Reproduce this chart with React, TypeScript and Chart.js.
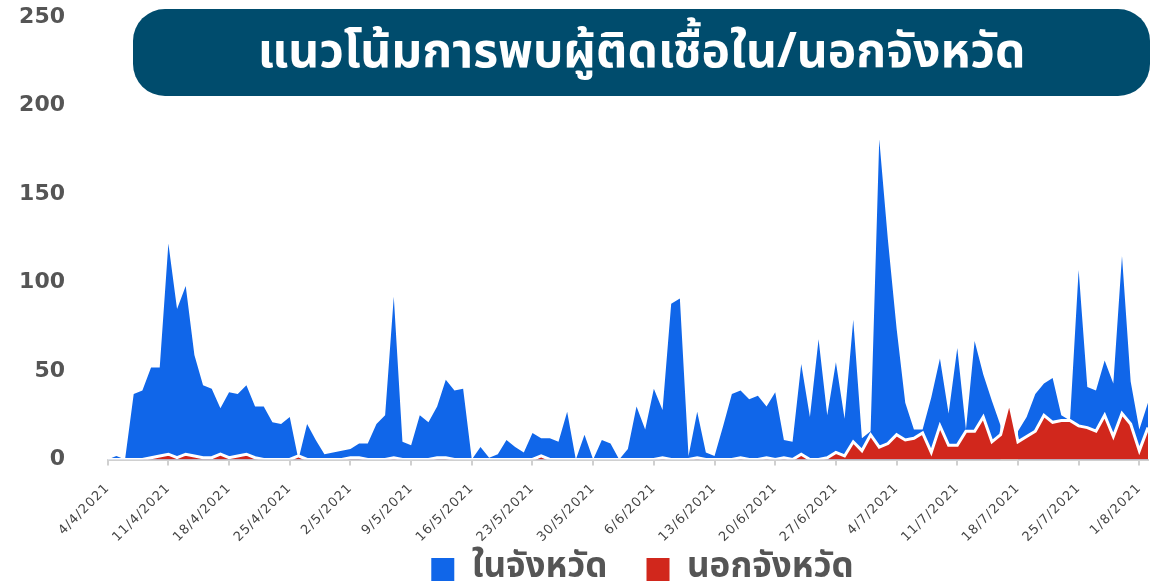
import React, { useEffect, useRef } from "react";
import { Chart, registerables } from "chart.js";

Chart.register(...registerables);

// ---------- data ----------
const START_YEAR = 2021;
const START_MONTH = 4; // April
const START_DAY = 4;
const DAY_COUNT = 121; // 4/4/2021 .. 2/8/2021
const TICK_EVERY = 7;
const Y_TICKS = [0, 50, 100, 150, 200, 250];

const TITLE = "แนวโน้มการพบผู้ติดเชื้อใน/นอกจังหวัด";
const SERIES_NAMES = ["ในจังหวัด", "นอกจังหวัด"];

// in-province cases per day
const inProvince: (number | null)[] = [
  0, 2, 0, 37, 39, 52, 52, 122, 85, 98,
  59, 42, 40, 29, 38, 37, 42, 30, 30, 21,
  20, 24, 0, 20, 11, 3, 4, 5, 6, 9,
  9, 20, 25, 92, 10, 8, 25, 21, 30, 45,
  39, 40, 0, 7, 1, 3, 11, 7, 4, 15,
  12, 12, 10, 27, 0, 14, 0, 11, 9, 0,
  6, 30, 17, 40, 28, 88, 91, 2, 27, 4,
  2, 19, 37, 39, 34, 36, 30, 38, 11, 10,
  54, 24, 68, 25, 55, 23, 79, 12, 16, 181,
  124, 74, 32, 17, 17, 35, 57, 26, 63, 17,
  67, 48, 33, 19, null, 16, 24, 37, 43, 46,
  25, 22, 107, 41, 39, 56, 43, 115, 44, 17,
  32,
];

// out-of-province cases per day
const outProvince: number[] = [
  0, 0, 0, 0, 0, 1, 2, 3, 1, 3,
  2, 1, 1, 3, 1, 2, 3, 1, 0, 0,
  0, 0, 2, 0, 0, 0, 0, 0, 1, 1,
  0, 0, 0, 1, 0, 0, 0, 0, 1, 1,
  0, 0, 0, 0, 0, 0, 0, 0, 0, 0,
  2, 0, 0, 0, 0, 0, 0, 0, 0, 0,
  0, 0, 0, 0, 1, 0, 0, 0, 1, 0,
  0, 0, 0, 1, 0, 0, 1, 0, 1, 0,
  3, 0, 0, 1, 4, 2, 10, 5, 14, 7,
  9, 14, 11, 12, 15, 4, 19, 8, 8, 16,
  16, 24, 10, 14, 33, 10, 13, 16, 25, 21,
  22, 22, 19, 18, 16, 25, 13, 26, 20, 5,
  18,
];

const BLUE = "#1066E9";
const RED = "#D1271C";
const TITLE_BG = "#004C6D";

const THAI_FONT = '"Noto Sans Thai", "Noto Sans Thai UI", "Noto Looped Thai", "Noto Sans", "DejaVu Sans", sans-serif';

function buildDates(): string[] {
  const out: string[] = [];
  for (let i = 0; i < DAY_COUNT; i++) {
    const d = new Date(Date.UTC(START_YEAR, START_MONTH - 1, START_DAY + i));
    out.push(`${d.getUTCDate()}/${d.getUTCMonth() + 1}/${d.getUTCFullYear()}`);
  }
  return out;
}

const dates = buildDates();

// ---------- layout constants ----------
const CANVAS_W = 1168;
const CANVAS_H = 629;
const VIEW_H = 586;
const Y_AXIS_W = 107.7;
const X_AXIS_H = 85.5;
const LEGEND_CENTER_X = 642.5;
const LEGEND_ITEM_TOP = 552;

// position the legend row where the reference has it
const legendPlace = {
  id: "legendPlace",
  afterLayout(chart: any) {
    const lg = chart.legend;
    if (!lg) return;
    const dx = LEGEND_CENTER_X - (lg.left + lg.right) / 2;
    lg.left += dx;
    lg.right += dx;
    const pad = lg.options.labels.padding || 0;
    const dy = LEGEND_ITEM_TOP - (lg.top + pad);
    lg.top += dy;
    lg.bottom += dy;
  },
};

// x tick labels in the reference are slightly letter-spaced
const xLabelSpacing = {
  id: "xLabelSpacing",
  beforeDraw(chart: any) {
    const xs = chart.scales.x;
    if (!xs || xs._spacingWrapped) return;
    const orig = xs.drawLabels.bind(xs);
    xs.drawLabels = (area: any) => {
      const ctx = xs.ctx;
      const prev = ctx.letterSpacing;
      ctx.letterSpacing = "1px";
      orig(area);
      ctx.letterSpacing = prev || "0px";
    };
    xs._spacingWrapped = true;
  },
};

export default function App() {
  const canvasRef = useRef<HTMLCanvasElement | null>(null);

  useEffect(() => {
    const canvas = canvasRef.current;
    if (!canvas) return;
    const chart = new Chart(canvas, {
      type: "line",
      data: {
        labels: dates,
        datasets: [
          {
            label: SERIES_NAMES[0],
            data: inProvince,
            backgroundColor: BLUE,
            borderColor: BLUE,
            borderWidth: 0,
            fill: "origin",
            pointRadius: 0,
            tension: 0,
            spanGaps: false,
            order: 1,
          },
          {
            label: SERIES_NAMES[1],
            data: outProvince,
            backgroundColor: RED,
            borderColor: "#ffffff",
            borderWidth: 3,
            borderJoinStyle: "miter",
            fill: "origin",
            pointRadius: 0,
            tension: 0,
            order: 0,
          },
        ],
      },
      options: {
        animation: false,
        responsive: false,
        maintainAspectRatio: false,
        events: [],
        layout: { padding: { top: 17, right: 20, left: 0, bottom: 0 } },
        plugins: {
          tooltip: { enabled: false },
          title: { display: false },
          legend: {
            position: "bottom",
            labels: {
              boxWidth: 23,
              boxHeight: 23,
              padding: 39,
              color: "#555555",
              font: { family: THAI_FONT, size: 35, weight: "bold" },
              sort: (a: any, b: any) => a.datasetIndex - b.datasetIndex,
              generateLabels: (ch: any) =>
                (Chart.defaults.plugins.legend.labels.generateLabels as any)(ch).map((it: any) => ({
                  ...it,
                  strokeStyle: it.fillStyle,
                  lineWidth: 0,
                })),
            },
          },
        },
        scales: {
          x: {
            type: "category",
            offset: false,
            ticks: {
              autoSkip: false,
              minRotation: 45,
              maxRotation: 45,
              padding: 15,
              color: "#444444",
              font: { family: '"DejaVu Sans", sans-serif', size: 13 },
              callback: (_v: any, i: number) => (i % TICK_EVERY === 0 ? dates[i] : ""),
            },
            grid: {
              display: true,
              drawOnChartArea: false,
              drawTicks: true,
              tickLength: 6,
              lineWidth: 2,
              color: (ctx: any) => (ctx.index % TICK_EVERY === 0 ? "#d0d0d0" : "rgba(0,0,0,0)"),
            },
            border: { display: true, color: "#d0d0d0", width: 2 },
            afterFit: (s: any) => {
              s.height = X_AXIS_H;
              s.paddingLeft = 0;
              s.paddingRight = 0;
            },
          },
          y: {
            min: Y_TICKS[0],
            max: Y_TICKS[Y_TICKS.length - 1],
            afterBuildTicks: (s: any) => {
              s.ticks = Y_TICKS.map((v) => ({ value: v }));
            },
            ticks: {
              color: "#555555",
              padding: 3.8,
              font: { family: '"DejaVu Sans", sans-serif', size: 22, weight: "bold" },
            },
            grid: { display: false, drawTicks: true, tickLength: 38.9 },
            border: { display: false },
            afterFit: (s: any) => {
              s.width = Y_AXIS_W;
            },
          },
        },
      },
      plugins: [legendPlace, xLabelSpacing],
    } as any);
    return () => chart.destroy();
  }, []);

  return (
    <div
      style={{
        position: "absolute",
        left: 0,
        top: 0,
        width: CANVAS_W,
        height: VIEW_H,
        overflow: "hidden",
        background: "#ffffff",
      }}
    >
      <canvas
        ref={canvasRef}
        width={CANVAS_W}
        height={CANVAS_H}
        style={{ position: "absolute", left: 0, top: 0, width: CANVAS_W, height: CANVAS_H }}
      />
      <div
        style={{
          position: "absolute",
          left: 133,
          top: 9,
          width: 1017,
          height: 87,
          borderRadius: 32,
          background: TITLE_BG,
          color: "#ffffff",
          fontFamily: THAI_FONT,
          fontWeight: "bold",
          fontSize: 48,
          lineHeight: "87px",
          textAlign: "center",
          whiteSpace: "nowrap",
        }}
      >
        {TITLE}
      </div>
    </div>
  );
}
